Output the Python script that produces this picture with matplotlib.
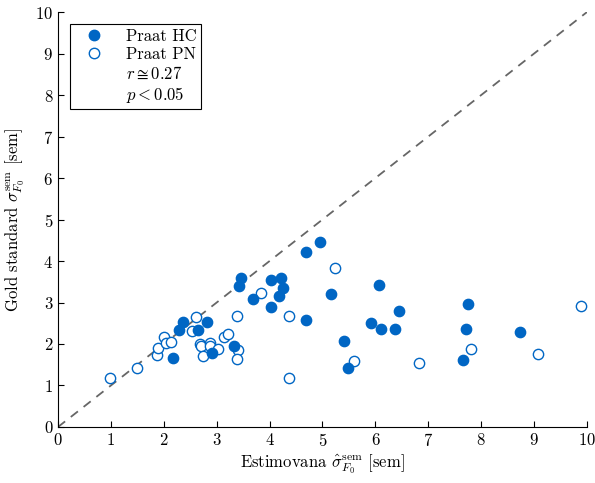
import matplotlib
matplotlib.use('Agg')
import matplotlib.pyplot as plt
from matplotlib.lines import Line2D

plt.rcParams['font.family'] = 'cmr10'
plt.rcParams['mathtext.fontset'] = 'cm'
plt.rcParams['axes.formatter.use_mathtext'] = True

# Praat HC (filled)
hc_x = [2.17, 2.29, 2.37, 2.65, 2.81, 2.91, 3.33, 3.43, 3.46, 3.69,
        4.02, 4.02, 4.18, 4.22, 4.25, 4.69, 4.95, 4.69, 5.17, 5.41,
        5.48, 5.92, 6.06, 6.10, 6.38, 6.44, 7.66, 7.71, 7.76, 8.74]
hc_y = [1.67, 2.34, 2.52, 2.33, 2.52, 1.78, 1.94, 3.40, 3.58, 3.09,
        2.90, 3.54, 3.15, 3.60, 3.36, 4.22, 4.47, 2.58, 3.20, 2.07,
        1.43, 2.51, 3.41, 2.35, 2.35, 2.80, 1.61, 2.36, 2.96, 2.30]

# Praat PN (open)
pn_x = [0.98, 1.49, 1.87, 1.89, 2.00, 2.04, 2.13, 2.53, 2.60, 2.68,
        2.70, 2.74, 2.87, 2.88, 3.03, 3.14, 3.22, 3.38, 3.40, 3.38,
        3.83, 4.36, 4.37, 5.24, 5.59, 6.82, 7.80, 9.08, 9.88]
pn_y = [1.19, 1.43, 1.73, 1.90, 2.18, 2.02, 2.06, 2.32, 2.66, 1.99,
        1.95, 1.72, 2.03, 1.95, 1.88, 2.18, 2.23, 2.67, 1.86, 1.63,
        3.22, 1.17, 2.67, 3.84, 1.58, 1.54, 1.87, 1.77, 2.92]

blue = '#0066c4'

fig = plt.figure(figsize=(5.95, 4.83), dpi=100)
ax = fig.add_axes([0.0975, 0.116, 0.889, 0.859])

ax.plot([0, 10], [0, 10], linestyle=(0, (5, 4)), color='#666666', linewidth=1.3, zorder=1)
ax.scatter(hc_x, hc_y, s=55, color=blue, edgecolors=blue, linewidths=1, zorder=3)
ax.scatter(pn_x, pn_y, s=55, facecolors='white', edgecolors=blue, linewidths=1, zorder=2)

ax.set_xlim(0, 10)
ax.set_ylim(0, 10)
ax.set_xticks(range(11))
ax.set_yticks(range(11))
ax.tick_params(direction='in', length=4, labelsize=12, top=False, right=False)
for s in ['top', 'right']:
    ax.spines[s].set_visible(False)

ax.set_xlabel(r'Estimovana $\hat{\sigma}_{F_0}^{\mathrm{sem}}$ [sem]', fontsize=12, labelpad=3)
ax.set_ylabel(r'Gold standard $\sigma_{F_0}^{\mathrm{sem}}$ [sem]', fontsize=12, labelpad=6)

handles = [
    Line2D([], [], marker='o', linestyle='none', markersize=7.5, color=blue),
    Line2D([], [], marker='o', linestyle='none', markersize=7.5,
           markerfacecolor='white', markeredgecolor=blue),
    Line2D([], [], linestyle='none'),
    Line2D([], [], linestyle='none'),
]
labels = ['Praat HC', 'Praat PN', r'$r \cong 0.27$', r'$p < 0.05$']
leg = ax.legend(handles, labels, loc='upper left', fontsize=12, fancybox=False,
                edgecolor='black', framealpha=1, bbox_to_anchor=(0.0227, 0.971),
                borderaxespad=0, handlelength=2.4, handletextpad=0.7,
                borderpad=0.25, labelspacing=0.2)
leg.get_frame().set_linewidth(0.8)

fig.savefig('out.png', dpi=100)
